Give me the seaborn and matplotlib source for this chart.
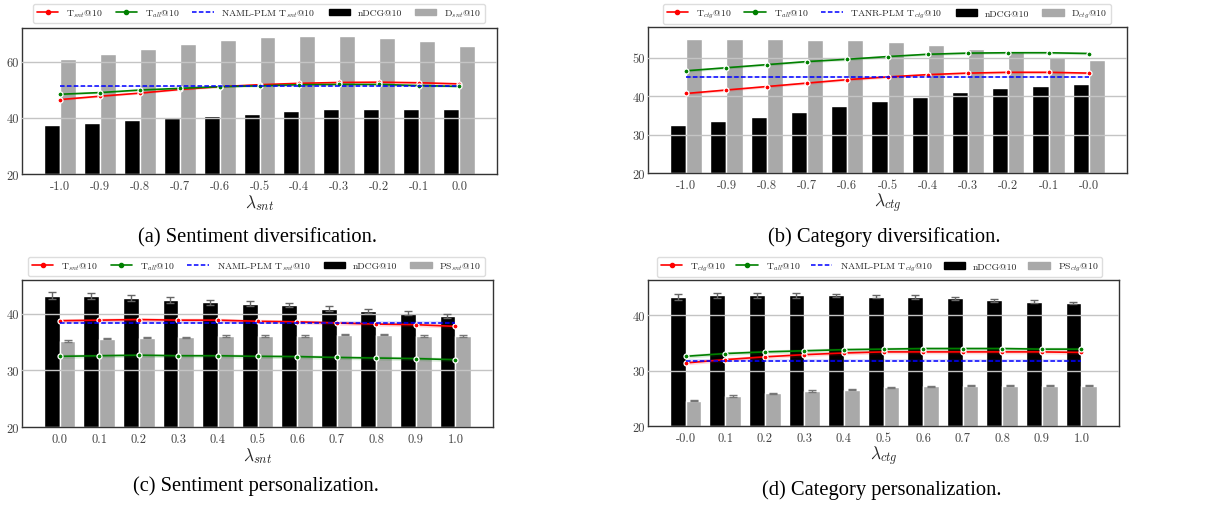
import numpy as np
import pandas as pd
import matplotlib
matplotlib.use("Agg")
import matplotlib.pyplot as plt
import seaborn as sns
from matplotlib.lines import Line2D
from matplotlib.patches import Patch

# x tick labels (lambda values)
lam_snt_div = ["-1.0", "-0.9", "-0.8", "-0.7", "-0.6", "-0.5", "-0.4", "-0.3", "-0.2", "-0.1", "0.0"]
lam_ctg_div = ["-1.0", "-0.9", "-0.8", "-0.7", "-0.6", "-0.5", "-0.4", "-0.3", "-0.2", "-0.1", "-0.0"]
lam_snt_pers = ["0.0", "0.1", "0.2", "0.3", "0.4", "0.5", "0.6", "0.7", "0.8", "0.9", "1.0"]
lam_ctg_pers = ["-0.0", "0.1", "0.2", "0.3", "0.4", "0.5", "0.6", "0.7", "0.8", "0.9", "1.0"]

# (a) sentiment diversification
a_ndcg = [37.6, 38.3, 39.4, 39.9, 40.8, 41.5, 42.3, 43.0, 43.3, 43.3, 43.3]
a_dsnt = [60.8, 62.6, 64.4, 66.2, 67.6, 68.7, 69.0, 69.0, 68.3, 67.3, 65.5]
a_tsnt = [46.5, 47.7, 48.8, 50.1, 51.1, 51.8, 52.3, 52.6, 52.7, 52.5, 52.1]
a_tall = [48.4, 49.0, 49.9, 50.5, 51.1, 51.4, 51.8, 51.9, 51.9, 51.5, 51.2]
a_base = 51.2

# (b) category diversification
b_ndcg = [32.4, 33.5, 34.5, 35.8, 37.4, 38.7, 39.9, 41.0, 42.0, 42.6, 43.1]
b_dctg = [55.0, 55.0, 55.0, 54.7, 54.5, 54.0, 53.4, 52.4, 51.4, 50.3, 49.3]
b_tctg = [40.7, 41.6, 42.5, 43.4, 44.3, 45.0, 45.6, 46.0, 46.2, 46.2, 46.0]
b_tall = [46.6, 47.4, 48.2, 49.0, 49.6, 50.3, 50.9, 51.2, 51.3, 51.3, 51.1]
b_base = 45.0

# (c) sentiment personalization
c_ndcg = [43.2, 43.2, 42.8, 42.5, 42.1, 41.8, 41.6, 40.9, 40.5, 40.2, 39.6]
c_ndcg_err = [0.6, 0.5, 0.5, 0.5, 0.45, 0.45, 0.4, 0.45, 0.4, 0.35, 0.3]
c_pssnt = [35.2, 35.6, 35.8, 35.9, 36.1, 36.1, 36.1, 36.3, 36.3, 36.1, 36.1]
c_pssnt_err = [0.1, 0.1, 0.1, 0.1, 0.1, 0.1, 0.1, 0.1, 0.1, 0.1, 0.1]
c_tsnt = [38.8, 38.9, 39.0, 38.9, 38.9, 38.7, 38.6, 38.4, 38.2, 38.1, 37.8]
c_tall = [32.5, 32.6, 32.7, 32.6, 32.6, 32.5, 32.45, 32.3, 32.2, 32.1, 31.9]
c_base = 38.45

# (d) category personalization
d_ndcg = [43.3, 43.6, 43.6, 43.6, 43.6, 43.4, 43.3, 43.1, 42.7, 42.5, 42.2]
d_ndcg_err = [0.5, 0.5, 0.5, 0.45, 0.35, 0.3, 0.3, 0.25, 0.25, 0.2, 0.2]
d_psctg = [24.6, 25.4, 25.9, 26.3, 26.6, 27.0, 27.2, 27.3, 27.3, 27.3, 27.3]
d_psctg_err = [0.15, 0.12, 0.12, 0.12, 0.12, 0.12, 0.12, 0.12, 0.12, 0.12, 0.12]
d_tctg = [31.4, 32.0, 32.5, 32.9, 33.2, 33.4, 33.4, 33.4, 33.4, 33.4, 33.3]
d_tall = [32.6, 33.1, 33.4, 33.6, 33.8, 33.9, 34.0, 34.0, 34.0, 33.9, 33.9]
d_base = 31.8

GRAY = "#a9a9a9"
DASH = (0, (3, 1.5))

sns.set_style("whitegrid", {"axes.edgecolor": "#333333", "grid.color": "#c4c4c4"})
plt.rcParams["font.family"] = ["cmr10", "DejaVu Serif"]
plt.rcParams["mathtext.fontset"] = "cm"
plt.rcParams["axes.unicode_minus"] = False

W, H = 1212, 506
fig = plt.figure(figsize=(W / 100, H / 100), dpi=100)


def px_axes(left, right, top, bottom):
    return fig.add_axes([left / W, 1 - bottom / H, (right - left) / W, (bottom - top) / H])


def draw_panel(ax, ticks, ndcg, second, second_lab, tmain, tmain_lab, tall, base, base_lab,
               xlab, ylim, yticks, leg_box, ndcg_err=None, second_err=None):
    n = len(ticks)
    pos = np.arange(n)
    df = pd.DataFrame({"pos": list(pos) * 2,
                       "value": ndcg + second,
                       "metric": ["nDCG@10"] * n + [second_lab] * n})
    sns.barplot(data=df, x="pos", y="value", hue="metric", palette=["black", GRAY],
                errorbar=None, width=0.8, saturation=1, legend=False, ax=ax)

    if ndcg_err is not None:
        centers = sorted(p.get_x() + p.get_width() / 2 for p in ax.patches)
        ax.errorbar(centers[0::2], ndcg, yerr=ndcg_err, fmt="none", ecolor="#666666",
                    elinewidth=1, capsize=3, capthick=1, zorder=4)
        ax.errorbar(centers[1::2], second, yerr=second_err, fmt="none", ecolor="#777777",
                    elinewidth=1, capsize=3, capthick=1, zorder=4)

    for vals, col in [(tmain, "red"), (tall, "green")]:
        vals = np.array(vals)
        ax.fill_between(pos, vals - 0.35, vals + 0.35, color=col, alpha=0.15, lw=0, zorder=3)
        sns.lineplot(x=pos, y=vals, color=col, marker="o", markersize=3.6,
                     markeredgecolor="white", markeredgewidth=0.9, linewidth=1.2,
                     legend=False, ax=ax, zorder=5)
    bl = np.full(n, base)
    ax.fill_between(pos, bl - 0.3, bl + 0.3, color="blue", alpha=0.12, lw=0, zorder=3)
    sns.lineplot(x=pos, y=bl, color="blue", linestyle=DASH, linewidth=1.1,
                 legend=False, ax=ax, zorder=5)

    ax.set_xticks(pos)
    ax.set_xticklabels(ticks)
    ax.set_xlim(-0.95, n - 0.05)
    ax.set_ylim(*ylim)
    ax.set_yticks(yticks)
    ax.grid(axis="y", lw=1)
    ax.grid(axis="x", visible=False)
    ax.set_axisbelow(False)
    ax.tick_params(labelsize=9, labelcolor="#444444", length=0)
    ax.tick_params(axis="y", pad=2)
    ax.tick_params(axis="x", pad=4)
    ax.set_xlabel(xlab, fontsize=12.5, labelpad=0)
    ax.set_ylabel("")
    for s in ax.spines.values():
        s.set_linewidth(1)
        s.set_color("#333333")

    handles = [Line2D([], [], color="red", marker=".", lw=1.2),
               Line2D([], [], color="green", marker=".", lw=1.2),
               Line2D([], [], color="blue", ls=DASH, lw=1.1),
               Patch(color="black"), Patch(color=GRAY)]
    labels = [tmain_lab, r"T$_{all}$@10", base_lab, "nDCG@10", second_lab]
    ax.legend(handles, labels, loc="lower left", bbox_to_anchor=leg_box, mode="expand",
              ncol=5, fontsize=7, frameon=True, edgecolor="#dddddd", framealpha=1,
              borderaxespad=0, handlelength=2.2)


ax_a = px_axes(22, 497, 29, 175)
draw_panel(ax_a, lam_snt_div, a_ndcg, a_dsnt, r"D$_{snt}$@10", a_tsnt, r"T$_{snt}$@10",
           a_tall, a_base, r"NAML-PLM T$_{snt}$@10", r"$\lambda_{snt}$",
           (20, 72), [20, 40, 60], (0.023, 1.034, 0.952, 0.13))

ax_b = px_axes(648, 1127, 28, 174)
draw_panel(ax_b, lam_ctg_div, b_ndcg, b_dctg, r"D$_{ctg}$@10", b_tctg, r"T$_{ctg}$@10",
           b_tall, b_base, r"TANR-PLM T$_{ctg}$@10", r"$\lambda_{ctg}$",
           (20, 58), [20, 30, 40, 50], (0.031, 1.02, 0.936, 0.15))

ax_c = px_axes(22, 493, 281, 428)
draw_panel(ax_c, lam_snt_pers, c_ndcg, c_pssnt, r"PS$_{snt}$@10", c_tsnt, r"T$_{snt}$@10",
           c_tall, c_base, r"NAML-PLM T$_{snt}$@10", r"$\lambda_{snt}$",
           (20, 46), [20, 30, 40], (0.013, 1.027, 0.97, 0.13),
           c_ndcg_err, c_pssnt_err)

ax_d = px_axes(648, 1119, 281, 427)
draw_panel(ax_d, lam_ctg_pers, d_ndcg, d_psctg, r"PS$_{ctg}$@10", d_tctg, r"T$_{ctg}$@10",
           d_tall, d_base, r"NAML-PLM T$_{ctg}$@10", r"$\lambda_{ctg}$",
           (20, 46.4), [20, 30, 40], (0.019, 1.02, 0.945, 0.14),
           d_ndcg_err, d_psctg_err)

captions = [("(a) Sentiment diversification.", 257, 238),
            ("(b) Category diversification.", 884, 237),
            ("(c) Sentiment personalization.", 256, 486),
            ("(d) Category personalization.", 882, 490)]
for txt, cx, cy in captions:
    fig.text(cx / W, 1 - cy / H, txt, ha="center", va="center", fontsize=14.8,
             family=["Liberation Serif", "DejaVu Serif"], color="black")

fig.savefig("out.png", dpi=100)
